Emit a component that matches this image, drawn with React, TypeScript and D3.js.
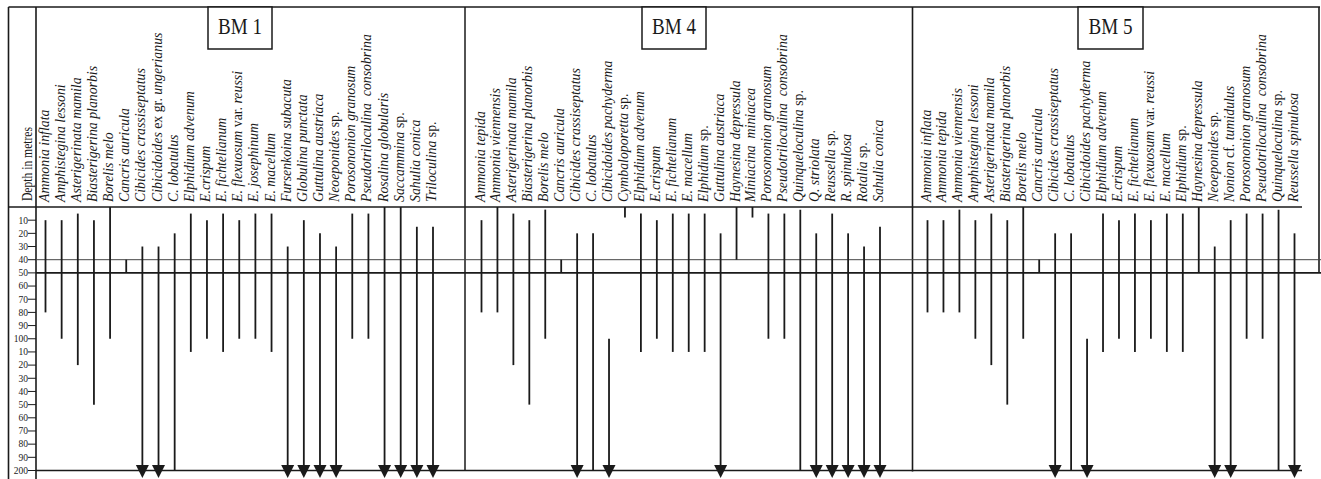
import React from "react";
import { scaleLinear, scalePoint } from "d3";

const width = 1321;
const height = 479;

// depth axis (metres)
const depthTicks = [10, 20, 30, 40, 50, 60, 70, 80, 90, 100, 110, 120, 130, 140, 150, 160, 170, 180, 190, 200];
const depthTickLabels = ["10", "20", "30", "40", "50", "60", "70", "80", "90", "100", "10", "20", "30", "40", "50", "60", "70", "80", "90", "200"];
const markerDepths = [40, 50];

// BM 1
const bm1Species = [
  "Ammonia inflata", "Amphistegina lessoni", "Asterigerinata mamila", "Biasterigerina planorbis",
  "Borelis melo", "Cancris auricula", "Cibicides crassiseptatus", "Cibicidoides ex gr. ungerianus",
  "C. lobatulus", "Elphidium advenum", "E.crispum", "E. fichtelianum", "E. flexuosum var. reussi",
  "E. josephinum", "E. macellum", "Fursenkoina subacuta", "Globulina punctata", "Guttulina austriaca",
  "Neoeponides sp.", "Porosononion granosum", "Pseudotriloculina  consobrina", "Rosalina globularis",
  "Saccammina sp.", "Sahulia conica", "Triloculina sp.",
];
const bm1Top = [10, 10, 5, 10, 0, 40, 30, 30, 20, 5, 10, 5, 10, 5, 5, 30, 10, 20, 30, 5, 5, 0, 0, 15, 15];
const bm1Base = [80, 100, 120, 150, 100, 50, 200, 200, 200, 110, 100, 110, 100, 100, 110, 200, 200, 200, 200, 100, 100, 200, 200, 200, 200];
const bm1Open = [0, 0, 0, 0, 0, 0, 1, 1, 0, 0, 0, 0, 0, 0, 0, 1, 1, 1, 1, 0, 0, 1, 1, 1, 1];

// BM 4
const bm4Species = [
  "Ammonia tepida", "Ammonia viennensis", "Asterigerinata mamila", "Biasterigerina planorbis",
  "Borelis melo", "Cancris auricula", "Cibicides crassiseptatus", "C. lobatulus",
  "Cibicidoides pachyderma", "Cymbaloporetta sp.", "Elphidium advenum", "E.crispum",
  "E. fichtelianum", "E. macellum", "Elphidium sp.", "Guttulina austriaca", "Haynesina depressula",
  "Miniacina  miniacea", "Porosononion granosum", "Pseudotriloculina  consobrina", "Quinqueloculina sp.",
  "Q. striolata", "Reussella sp.", "R. spinulosa", "Rotalia sp.", "Sahulia conica",
];
const bm4Top = [10, 0, 5, 10, 2, 40, 20, 20, 100, 0, 5, 10, 5, 5, 5, 20, 0, 0, 5, 5, 2, 20, 5, 20, 30, 15];
const bm4Base = [80, 80, 120, 150, 100, 50, 200, 200, 200, 8, 110, 100, 110, 110, 110, 200, 40, 8, 100, 100, 200, 200, 200, 200, 200, 200];
const bm4Open = [0, 0, 0, 0, 0, 0, 1, 0, 1, 0, 0, 0, 0, 0, 0, 1, 0, 0, 0, 0, 0, 1, 1, 1, 1, 1];

// BM 5
const bm5Species = [
  "Ammonia inflata", "Ammonia tepida", "Ammonia viennensis", "Amphistegina lessoni",
  "Asterigerinata mamila", "Biasterigerina planorbis", "Borelis melo", "Cancris auricula",
  "Cibicides crassiseptatus", "C. lobatulus", "Cibicidoides pachyderma", "Elphidium advenum",
  "E.crispum", "E. fichtelianum", "E. flexuosum var. reussi", "E. macellum", "Elphidium sp.",
  "Haynesina depressula", "Neoeponides sp.", "Nonion cf. tumidulus", "Porosononion granosum",
  "Pseudotriloculina  consobrina", "Quinqueloculina sp.", "Reussella spinulosa",
];
const bm5Top = [10, 10, 2, 10, 5, 10, 0, 40, 20, 20, 100, 5, 10, 5, 10, 5, 5, 0, 30, 10, 5, 5, 2, 20];
const bm5Base = [80, 80, 80, 100, 120, 150, 100, 50, 200, 200, 200, 110, 100, 110, 100, 110, 110, 50, 200, 200, 100, 100, 200, 200];
const bm5Open = [0, 0, 0, 0, 0, 0, 0, 0, 1, 0, 1, 0, 0, 0, 0, 0, 0, 0, 1, 1, 0, 0, 0, 1];

const romanWords = new Set(["sp.", "var.", "ex", "gr.", "cf."]);

// layout
const frameLeft = 8.5;
const depthCol = 36;
const frameTop = 7;
const headerBottom = 207;
const frameRight = 1319;

const y = scaleLinear().domain([0, 200]).range([headerBottom, 470.5]);

const panels = [
  { name: "BM 1", species: bm1Species, top: bm1Top, base: bm1Base, open: bm1Open, xr: [45.5, 433], left: depthCol, right: 465, box: [208, 272] },
  { name: "BM 4", species: bm4Species, top: bm4Top, base: bm4Base, open: bm4Open, xr: [481.5, 880], left: 465, right: 912.5, box: [642, 706] },
  { name: "BM 5", species: bm5Species, top: bm5Top, base: bm5Base, open: bm5Open, xr: [927.5, 1294.5], left: 912.5, right: 1302, box: [1078, 1143] },
];

const ink = "#1a1a1a";
const serif = "'Liberation Serif', 'Times New Roman', serif";

const SpeciesLabel = ({ name, x }: { name: string; x: number }) => {
  const words = name.split(" ");
  return (
    <text
      transform={`translate(${x + 3},202) rotate(-90)`}
      fontFamily={serif}
      fontSize={13.8}
      fill={ink}
    >
      {words.map((w, i) => (
        <tspan key={i} fontStyle={romanWords.has(w) ? "normal" : "italic"}>
          {(i ? "\u00a0" : "") + w}
        </tspan>
      ))}
    </text>
  );
};

const Panel = ({ p }: { p: (typeof panels)[number] }) => {
  const x = scalePoint<string>().domain(p.species).range(p.xr as [number, number]);
  const y200 = y(200);
  return (
    <g>
      {/* name box */}
      <rect x={p.box[0]} y={frameTop} width={p.box[1] - p.box[0]} height={42} fill="white" stroke={ink} strokeWidth={1.5} />
      <text
        x={(p.box[0] + p.box[1]) / 2}
        y={34}
        textAnchor="middle"
        fontFamily={serif}
        fontSize={24}
        textLength={44}
        lengthAdjust="spacingAndGlyphs"
        fill={ink}
      >
        {p.name}
      </text>
      {/* bottom of panel at 200 m */}
      <line x1={p.left} x2={p.right} y1={y200} y2={y200} stroke={ink} strokeWidth={1.5} />
      {p.species.map((s, i) => {
        const cx = x(s)!;
        const open = p.open[i] === 1;
        const y1 = y(p.top[i]);
        const y2 = open ? y200 - 5 : y(p.base[i]);
        return (
          <g key={s}>
            <SpeciesLabel name={s} x={cx} />
            <line x1={cx} x2={cx} y1={y1} y2={y2} stroke={ink} strokeWidth={1.8} />
            {open && (
              <path
                d={`M${cx - 6.5},${y200 - 5.5} L${cx + 6.5},${y200 - 5.5} L${cx},${y200 + 7.5} Z`}
                fill={ink}
              />
            )}
          </g>
        );
      })}
    </g>
  );
};

export default function App() {
  return (
    <svg width={width} height={height} style={{ position: "absolute", left: 0, top: 0, background: "white" }}>
      <rect width={width} height={height} fill="white" />
      {/* frame */}
      <line x1={frameLeft} x2={frameRight + 1} y1={frameTop} y2={frameTop} stroke={ink} strokeWidth={1.6} />
      <line x1={frameLeft} x2={frameLeft} y1={frameTop} y2={height} stroke={ink} strokeWidth={1.6} />
      <line x1={depthCol} x2={depthCol} y1={frameTop} y2={height} stroke={ink} strokeWidth={1.6} />
      <line x1={frameLeft} x2={1302} y1={headerBottom} y2={headerBottom} stroke={ink} strokeWidth={1.5} />
      <line x1={465} x2={465} y1={frameTop} y2={y(200)} stroke={ink} strokeWidth={1.5} />
      <line x1={912.5} x2={912.5} y1={frameTop} y2={y(200) + 1} stroke={ink} strokeWidth={1.6} />
      <line x1={frameRight} x2={frameRight} y1={frameTop} y2={y(50)} stroke={ink} strokeWidth={1.6} />

      {/* depth title */}
      <text
        transform="translate(32,201) rotate(-90)"
        fontFamily={serif}
        fontSize={15}
        textLength={74}
        lengthAdjust="spacingAndGlyphs"
        fill={ink}
      >
        Depth in metres
      </text>

      {/* depth ticks */}
      {depthTicks.map((d, i) => (
        <g key={d} transform={`translate(0,${y(d)})`}>
          <line x1={28} x2={depthCol} stroke={ink} strokeWidth={1} />
          <text x={28} dy="0.35em" textAnchor="end" fontFamily={serif} fontSize={9.5} fill={ink}>
            {depthTickLabels[i]}
          </text>
        </g>
      ))}

      {/* 40 m and 50 m markers */}
      {markerDepths.map((d, i) => (
        <line
          key={d}
          x1={depthCol}
          x2={width}
          y1={y(d)}
          y2={y(d)}
          stroke={i === 0 ? "#444" : ink}
          strokeWidth={i === 0 ? 1 : 1.8}
        />
      ))}

      {panels.map((p) => (
        <Panel key={p.name} p={p} />
      ))}
    </svg>
  );
}
